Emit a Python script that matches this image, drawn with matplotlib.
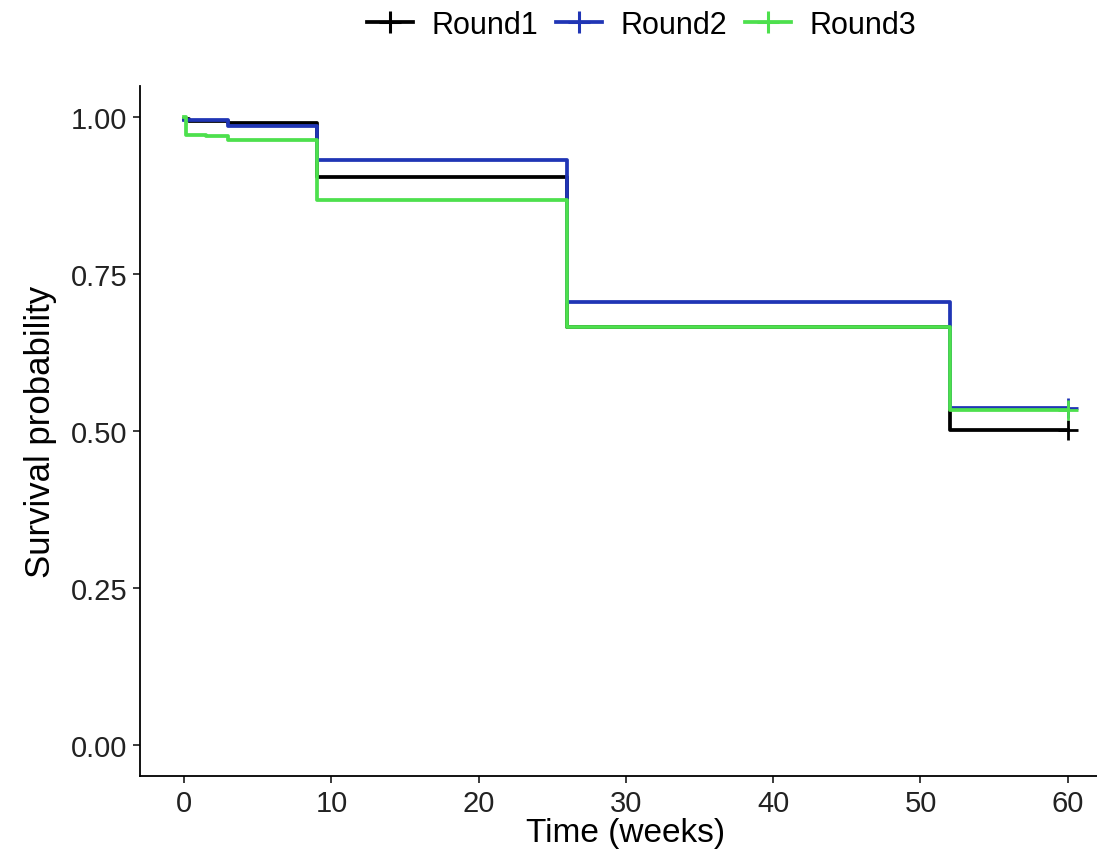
import matplotlib.pyplot as plt
from matplotlib.lines import Line2D

# step curves (time in weeks, survival probability)
r1_time = [0, 0.3, 3, 9, 26, 52, 60]
r1_surv = [0.996, 0.994, 0.991, 0.905, 0.666, 0.502, 0.502]

r2_time = [0, 3, 9, 26, 52, 60]
r2_surv = [0.995, 0.986, 0.932, 0.705, 0.536, 0.536]

r3_time = [0, 0.15, 1.5, 3, 9, 26, 52, 60]
r3_surv = [1.0, 0.972, 0.969, 0.964, 0.867, 0.666, 0.533, 0.533]

labels = ["Round1", "Round2", "Round3"]
colors = ["#000000", "#2035b5", "#4de04d"]

plt.rcParams['font.family'] = ['Liberation Sans', 'DejaVu Sans']

fig = plt.figure(figsize=(10.97, 8.62), dpi=100)
ax = fig.add_axes([0.1276, 0.0986, 0.886, 0.801])

series = [(r1_time, r1_surv), (r2_time, r2_surv), (r3_time, r3_surv)]
for (t, s), c in zip(series, colors):
    ax.step(t, s, where='post', color=c, lw=2.7)
    ax.plot(t[-1], s[-1], marker='+', ms=14, mew=2.0, color=c, ls='none')

ax.set_xlim(-3, 63)
ax.set_ylim(-0.05, 1.05)
ax.set_xticks([0, 10, 20, 30, 40, 50, 60])
ax.set_yticks([0, 0.25, 0.5, 0.75, 1.0])
ax.set_yticklabels(["0.00", "0.25", "0.50", "0.75", "1.00"])
ax.tick_params(labelsize=21, length=5, width=1.2, pad=4, colors='#1a1a1a', labelcolor='#222222')
for side in ['top', 'right']:
    ax.spines[side].set_visible(False)
for side in ['left', 'bottom']:
    ax.spines[side].set_linewidth(1.3)

ax.set_xlabel("Time (weeks)", fontsize=24, labelpad=0)
ax.set_ylabel("Survival probability", fontsize=25, labelpad=10)

handles = [Line2D([0], [0], color=c, lw=2.7, marker='+', ms=16, mew=2.2) for c in colors]
fig.legend(handles, labels, loc='center', bbox_to_anchor=(0.585, 0.97), ncol=3,
           frameon=False, fontsize=22, handlelength=1.5, columnspacing=0.6, handletextpad=0.6)

fig.savefig('out.png', dpi=100)
